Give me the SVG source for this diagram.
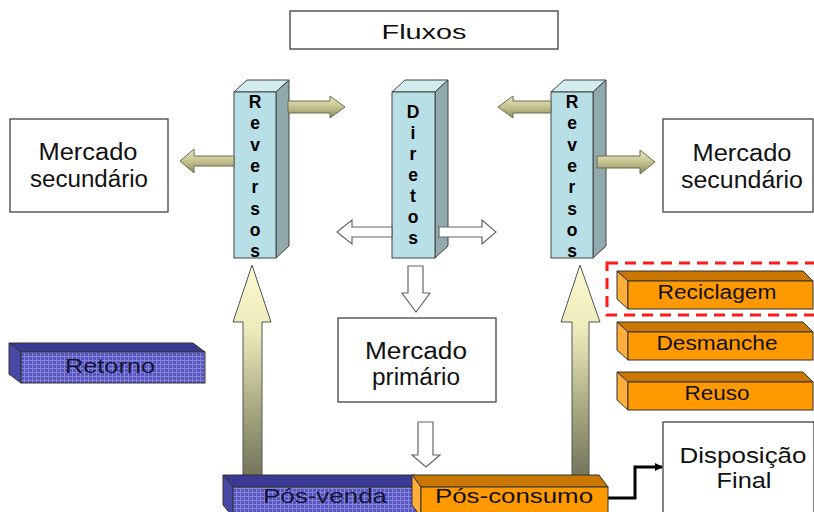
<svg xmlns="http://www.w3.org/2000/svg" width="814" height="512" viewBox="0 0 814 512">
<style>
.lbl{font-family:"Liberation Sans",Arial,sans-serif;fill:#111;text-anchor:middle}
.box{fill:#fff;stroke:#333;stroke-width:1.2}
.pl{font-family:"Liberation Sans",Arial,sans-serif;font-size:17.5px;font-weight:bold;fill:#000;text-anchor:middle}
.pf{fill:#b8dfe5;stroke:#444;stroke-width:1}
.pt{fill:#d3ecef;stroke:#444;stroke-width:1}
.ps{fill:#8fa9ac;stroke:#444;stroke-width:1}
.of{fill:#ff9900;stroke:#333;stroke-width:1}
.ot{fill:#c97700;stroke:#333;stroke-width:1}
.os{fill:#ffae3a;stroke:#333;stroke-width:1}
.bf{fill:url(#grid);stroke:#333;stroke-width:1}
.bt{fill:#3a3a94;stroke:#333;stroke-width:1}
.bs{fill:#4848a6;stroke:#333;stroke-width:1}
.olive{fill:url(#olg);stroke:#6b6b50;stroke-width:1}
.white{fill:#fff;stroke:#666;stroke-width:1.2}
.big{fill:url(#bigg);stroke:#555;stroke-width:1}
.dk{fill:#15153a}
</style>
<defs>
<linearGradient id="olg" x1="0" y1="0" x2="0" y2="1">
<stop offset="0" stop-color="#ecebc6"/>
<stop offset="0.5" stop-color="#c4c38f"/>
<stop offset="1" stop-color="#8c8b62"/>
</linearGradient>
<linearGradient id="bigg" x1="0" y1="0" x2="0" y2="1">
<stop offset="0" stop-color="#fbf9d0"/>
<stop offset="0.3" stop-color="#ecebbb"/>
<stop offset="0.65" stop-color="#a9a982"/>
<stop offset="1" stop-color="#6d6e57"/>
</linearGradient>
<pattern id="grid" width="4" height="4" patternUnits="userSpaceOnUse">
<rect width="4" height="4" fill="#5656bc"/>
<path d="M0,0.5H4M0.5,0V4" stroke="#8484dc" stroke-width="1"/>
</pattern>
<marker id="ah" markerWidth="8" markerHeight="8" refX="7" refY="4" orient="auto" markerUnits="userSpaceOnUse">
<path d="M0,0L8,4L0,8Z" fill="#000"/>
</marker>
</defs>
<rect width="814" height="512" fill="#fff"/>

<g id="fluxos">
<rect x="290" y="11" width="268" height="38" fill="#fff" stroke="#555" stroke-width="1.5"/>
<text class="lbl" x="424" y="39" style="font-size:21px" textLength="85" lengthAdjust="spacingAndGlyphs">Fluxos</text>
</g>

<g id="mercado-secundario-esq">
<rect class="box" x="10" y="119" width="158" height="93"/>
<text class="lbl" x="88" y="160" style="font-size:23px" textLength="99" lengthAdjust="spacingAndGlyphs">Mercado</text>
<text class="lbl" x="89" y="187" style="font-size:23px" textLength="118" lengthAdjust="spacingAndGlyphs">secundário</text>
</g>

<g id="mercado-secundario-dir">
<rect class="box" x="663" y="119" width="150" height="93"/>
<text class="lbl" x="742" y="161" style="font-size:23px" textLength="99" lengthAdjust="spacingAndGlyphs">Mercado</text>
<text class="lbl" x="742" y="188" style="font-size:23px" textLength="122" lengthAdjust="spacingAndGlyphs">secundário</text>
</g>

<g id="mercado-primario">
<rect class="box" x="338" y="318" width="158" height="84"/>
<text class="lbl" x="416" y="359" style="font-size:23px" textLength="102" lengthAdjust="spacingAndGlyphs">Mercado</text>
<text class="lbl" x="416" y="385" style="font-size:23px" textLength="88" lengthAdjust="spacingAndGlyphs">primário</text>
</g>

<g id="disposicao-final">
<rect class="box" x="663" y="422" width="151" height="100"/>
<text class="lbl" x="743" y="463" style="font-size:22.5px" textLength="127" lengthAdjust="spacingAndGlyphs">Disposição</text>
<text class="lbl" x="744" y="488" style="font-size:22.5px" textLength="55" lengthAdjust="spacingAndGlyphs">Final</text>
</g>

<g id="reversos-esq">
<polygon class="pt" points="234,92 247,80 289,80 276,92"/>
<polygon class="ps" points="276,92 289,80 289,246 276,258"/>
<rect class="pf" x="234" y="92" width="42" height="166"/>
<text class="pl" x="255" y="108">R<tspan x="255" dy="21.3">e</tspan><tspan x="255" dy="21.3">v</tspan><tspan x="255" dy="21.3">e</tspan><tspan x="255" dy="21.3">r</tspan><tspan x="255" dy="21.3">s</tspan><tspan x="255" dy="21.3">o</tspan><tspan x="255" dy="21.3">s</tspan></text>
</g>

<g id="diretos">
<polygon class="pt" points="392,92 405,80 448,80 435,92"/>
<polygon class="ps" points="435,92 448,80 448,246 435,258"/>
<rect class="pf" x="392" y="92" width="43" height="166"/>
<text class="pl" x="413" y="118">D<tspan x="413" dy="21">i</tspan><tspan x="413" dy="21">r</tspan><tspan x="413" dy="21">e</tspan><tspan x="413" dy="21">t</tspan><tspan x="413" dy="21">o</tspan><tspan x="413" dy="21">s</tspan></text>
</g>

<g id="reversos-dir">
<polygon class="pt" points="551,92 564,80 606,80 593,92"/>
<polygon class="ps" points="593,92 606,80 606,246 593,258"/>
<rect class="pf" x="551" y="92" width="42" height="166"/>
<text class="pl" x="572" y="108">R<tspan x="572" dy="21.3">e</tspan><tspan x="572" dy="21.3">v</tspan><tspan x="572" dy="21.3">e</tspan><tspan x="572" dy="21.3">r</tspan><tspan x="572" dy="21.3">s</tspan><tspan x="572" dy="21.3">o</tspan><tspan x="572" dy="21.3">s</tspan></text>
</g>

<g id="connectors">
<path class="olive" d="M288,101H330V96L345,107L330,118V113H288Z"/>
<path class="olive" d="M234,156H194V149L180,161L194,173V166H234Z"/>
<path class="olive" d="M551,101H513V96L498,107L513,118V113H551Z"/>
<path class="olive" d="M597,156H640V150L655,162L640,174V168H597Z"/>
<path class="white" d="M392,227H352V220L337,232L352,244V237H392Z"/>
<path class="white" d="M439,227H482V220L496,232L482,244V237H439Z"/>
<path class="white" d="M408,266H423V293H430L416,312L402,293H408Z"/>
<path class="white" d="M418,422H433V455H440L426,467L412,455H418Z"/>
<path class="big" d="M243,484V322H233L252,265L271,322H262V484Z"/>
<path class="big" d="M572,484V322H561L580,265L600,322H589V484Z"/>
<polyline points="608,498 635,498 635,467 662,467" fill="none" stroke="#000" stroke-width="3" marker-end="url(#ah)"/>
</g>

<g id="retorno">
<polygon class="bt" points="9,343 193,343 205,352 21,352"/>
<polygon class="bs" points="9,343 21,352 21,383 9,374"/>
<rect class="bf" x="21" y="352" width="184" height="31"/>
<text class="lbl dk" x="110" y="373" style="font-size:21px" textLength="90" lengthAdjust="spacingAndGlyphs">Retorno</text>
</g>

<g id="pos-venda">
<polygon class="bt" points="223,475 415,475 425,487 233,487"/>
<polygon class="bs" points="223,475 233,487 233,517 223,505"/>
<rect class="bf" x="233" y="487" width="192" height="30"/>
<text class="lbl dk" x="325" y="503" style="font-size:21px" textLength="124" lengthAdjust="spacingAndGlyphs">Pós-venda</text>
</g>

<g id="pos-consumo">
<polygon class="ot" points="412,475 599,475 608,487 421,487"/>
<polygon class="os" points="412,475 421,487 421,517 412,505"/>
<rect class="of" x="421" y="487" width="187" height="30"/>
<text class="lbl" x="514" y="503" style="font-size:21px" textLength="158" lengthAdjust="spacingAndGlyphs">Pós-consumo</text>
</g>

<g id="reciclagem">
<polygon class="ot" points="617,271 803,271 813,281 628,281"/>
<polygon class="os" points="617,271 628,281 628,309 617,299"/>
<rect class="of" x="628" y="281" width="185" height="28"/>
<text class="lbl" x="717" y="299" style="font-size:19.5px" textLength="119" lengthAdjust="spacingAndGlyphs">Reciclagem</text>
<rect x="607" y="263" width="222" height="52" fill="none" stroke="#ff1a1a" stroke-width="3" stroke-dasharray="11 7"/>
</g>

<g id="desmanche">
<polygon class="ot" points="617,322 803,322 813,332 628,332"/>
<polygon class="os" points="617,322 628,332 628,360 617,350"/>
<rect class="of" x="628" y="332" width="185" height="28"/>
<text class="lbl" x="717" y="350" style="font-size:19.5px" textLength="121" lengthAdjust="spacingAndGlyphs">Desmanche</text>
</g>

<g id="reuso">
<polygon class="ot" points="617,372 803,372 813,382 628,382"/>
<polygon class="os" points="617,372 628,382 628,410 617,400"/>
<rect class="of" x="628" y="382" width="185" height="28"/>
<text class="lbl" x="717" y="400" style="font-size:19.5px" textLength="65" lengthAdjust="spacingAndGlyphs">Reuso</text>
</g>
</svg>
